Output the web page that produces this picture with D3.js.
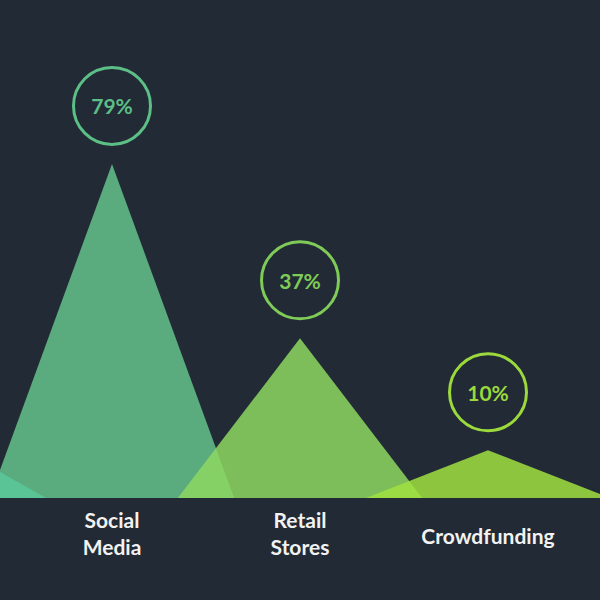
<!DOCTYPE html>
<html>
<head>
<meta charset="utf-8">
<script src="https://cdn.jsdelivr.net/npm/d3@7"></script>
<style>
  html, body { margin: 0; padding: 0; background: #222a35; }
  svg { display: block; }
</style>
</head>
<body>
<svg id="chart" width="600" height="600"></svg>
<script>
// ---- data ----
const categories = ["", "Social Media", "Retail Stores", "Crowdfunding"];
const values = [15, 79, 37, 10];
const valueLabels = ["", "79%", "37%", "10%"];
const fillColors = ["#5cc89b", "#64c28b", "#8dd760", "#a0e141"];
const ringColors = ["#5cc89b", "#5bbf86", "#7fcb57", "#9bd93d"];
const drawOrder = [1, 2, 3, 0];

// ---- layout ----
const W = 600, H = 600;
const baseY = 498;
const svg = d3.select("#chart");
svg.append("rect").attr("width", W).attr("height", H).attr("fill", "#222a35");

const x = d3.scaleBand().domain(categories).range([-170, 582]).padding(0);
const y = d3.scaleLinear().domain([-1.5, 100]).range([baseY, 76.8]);
const halfW = x.bandwidth() * 0.65;
const cx = c => x(c) + x.bandwidth() / 2;

const g = svg.append("g");
drawOrder.forEach(i => {
  const c = categories[i];
  const px = cx(c);
  const pts = [[px - halfW, baseY], [px, y(values[i])], [px + halfW, baseY]];
  g.append("path")
    .attr("d", d3.line()(pts) + "Z")
    .attr("fill", fillColors[i])
    .attr("fill-opacity", 0.85);
});

// value rings
categories.forEach((c, i) => {
  if (!valueLabels[i]) return;
  const px = cx(c);
  const cy = y(values[i]) - 58;
  svg.append("circle")
    .attr("cx", px).attr("cy", cy).attr("r", 38.5)
    .attr("fill", "none")
    .attr("stroke", ringColors[i])
    .attr("stroke-width", 3);
  svg.append("text")
    .attr("x", px).attr("y", cy)
    .attr("text-anchor", "middle")
    .attr("dominant-baseline", "central")
    .attr("font-family", "Lato, 'Open Sans', sans-serif")
    .attr("font-weight", "bold")
    .attr("font-size", 21)
    .attr("fill", ringColors[i])
    .text(valueLabels[i]);
});

// category labels
categories.forEach((c, i) => {
  if (!c) return;
  const words = c === "Crowdfunding" ? [c] : c.split(" ");
  const lh = 27;
  const t = svg.append("text")
    .attr("text-anchor", "middle")
    .attr("font-family", "Lato, 'Open Sans', sans-serif")
    .attr("font-weight", "bold")
    .attr("font-size", 21)
    .attr("fill", "#f2f2f2");
  const startY = words.length > 1 ? 528 : 544;
  words.forEach((w, k) => {
    t.append("tspan").attr("x", cx(c)).attr("y", startY + k * lh).text(w);
  });
});
</script>
</body>
</html>
